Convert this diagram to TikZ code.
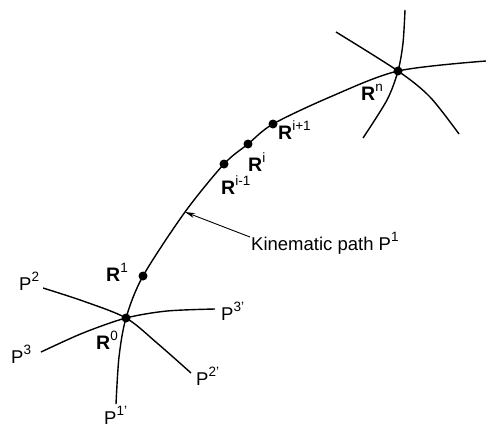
\documentclass[tikz,border=0pt]{standalone}
\usepackage{fontspec}
\setmainfont{Liberation Sans}
\usepackage{tikz}
\usetikzlibrary{arrows.meta}
\newcommand{\upr}[1]{\raisebox{0.45em}{\fontsize{13.5}{14}\selectfont #1}}

\begin{document}
\begin{tikzpicture}[
  x=1pt,y=-1pt,
  dot/.style={circle,fill,inner sep=0pt,minimum size=9pt},
  lab/.style={font=\fontsize{18.5}{21}\selectfont,inner sep=0pt,anchor=base west},
  rlab/.style={lab,font=\fontsize{19.5}{22}\selectfont},
  curve/.style={line width=1.4pt},
  pointer/.style={-{Stealth[length=10pt,width=5pt]},line width=0.9pt}
]
\useasboundingbox (0,0) rectangle (486,428);

% points on the kinematic path
\node[dot] (r0) at (126,318) {};
\node[dot] (r1) at (143,276) {};
\node[dot] (ra) at (224,164) {};
\node[dot] (rb) at (248,144) {};
\node[dot] (rc) at (273,124) {};
\node[dot] (rn) at (398,71) {};
\coordinate (pstart) at (116,404);
\coordinate (pend) at (486,61);
\coordinate (hit) at (185,212);
\coordinate (tail) at (250,237);

\draw[curve] plot[smooth] coordinates {(pstart) (119,357) (r0.center) (r1.center)
  (hit) (ra.center) (rb.center) (rc.center) (330,97) (rn.center) (pend)};

% paths through R^0
\draw[curve] plot[smooth] coordinates {(43,288) (83,301) (r0.center) (157,343) (191,373)};
\draw[curve] plot[smooth] coordinates {(41,352) (83,333) (r0.center) (167,311) (215,309)};

% paths through R^n
\draw[curve] plot[smooth] coordinates {(336,32) (rn.center) (430,97) (459,134)};
\draw[curve] plot[smooth] coordinates {(405,10) (403,43) (rn.center) (387,100) (363,138)};

% labels
\node[lab] (lp2) at (19,290) {P\upr{2}};
\node[lab] (lp3) at (11,363) {P\upr{3}};
\node[lab] (lp3b) at (221,320) {P\upr{3'}};
\node[lab] (lp2b) at (196,385) {P\upr{2'}};
\node[lab] (lp1b) at (104,424) {P\upr{1'}};

\node[rlab] (lr0) at (96,349) {\textbf{R}\upr{0}};
\node[rlab] (lr1) at (106,281) {\textbf{R}\upr{1}};
\node[rlab] (lra) at (221,194) {\textbf{R}\upr{i-1}};
\node[rlab] (lrb) at (248,171) {\textbf{R}\upr{i}};
\node[rlab] (lrc) at (278,139) {\textbf{R}\upr{i+1}};
\node[rlab] (lrn) at (361,100) {\textbf{R}\upr{n}};

\node[lab] (kin) at (251,250) {Kinematic path P\upr{1}};
\draw[pointer] (tail) -- (hit);
\end{tikzpicture}
\end{document}
